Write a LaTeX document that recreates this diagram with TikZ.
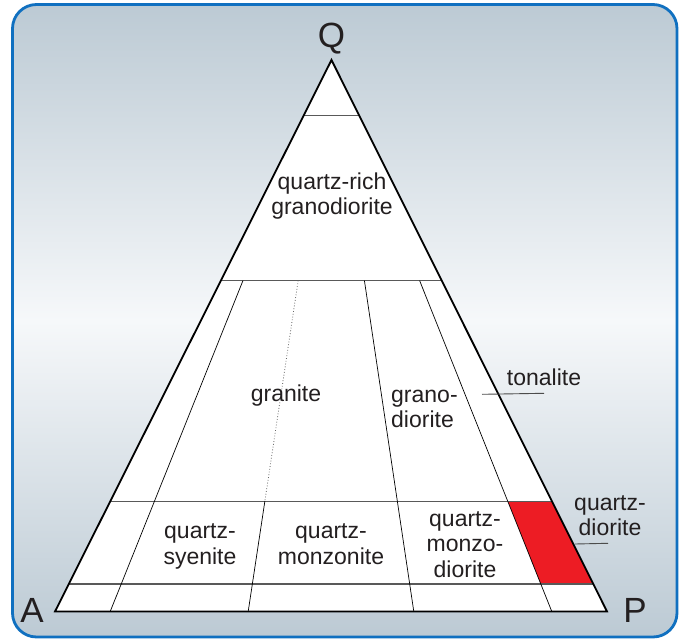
\documentclass[tikz,border=0pt]{standalone}
\usepackage{fontspec}
\setmainfont{Liberation Sans}
\usetikzlibrary{calc,positioning}
\definecolor{frameblue}{RGB}{16,112,192}
\definecolor{bgtop}{RGB}{188,202,212}
\definecolor{bgmid}{RGB}{246,248,250}
\definecolor{qdred}{RGB}{237,28,36}
\definecolor{inkgray}{RGB}{35,31,32}

\begin{document}
\begin{tikzpicture}[
    x=1pt, y=-1pt,
    every node/.style={font=\fontsize{23}{25.5}\selectfont, text=inkgray, inner sep=0pt},
    field/.style={align=center},
    corner/.style={font=\fontsize{35}{38}\selectfont, anchor=base},
    edge/.style={draw=black, line width=1.8pt, line join=miter},
    level/.style={draw=black!65, line width=1.3pt},
    split/.style={draw=black, line width=0.7pt},
    guess/.style={draw=black!60, line width=0.8pt, dotted},
    leader/.style={draw=black!70, line width=0.9pt}
]
\useasboundingbox (0,0) rectangle (681,640);
\draw[draw=frameblue, line width=2.8pt, rounded corners=24pt, top color=bgtop, bottom color=bgtop, middle color=bgmid] (12.5,4.5) rectangle (677,637);

% corners of the QAP triangle
\coordinate (A) at (55,611.5);
\coordinate (P) at (607,611.5);
\coordinate (Q) at (331.5,60);
\foreach \r/\n in {0.1/b10, 0.35/b35, 0.65/b65, 0.9/b90}
  \coordinate (\n) at ($(A)!\r!(P)$);

\fill[white] (A) -- (P) -- (Q) -- cycle;
\fill[qdred] ($(b90)!0.2!(Q)$) -- ($(P)!0.2!(Q)$) -- ($(P)!0.05!(Q)$) -- ($(b90)!0.05!(Q)$) -- cycle;

% field boundaries
\foreach \q in {0.05, 0.2, 0.6, 0.9}
  \draw[level] ($(A)!\q!(Q)$) -- ($(P)!\q!(Q)$);
\foreach \n in {b10, b65, b90}
  \draw[split] ($(\n)!0.6!(Q)$) -- (\n);
\draw[guess] ($(b35)!0.6!(Q)$) -- ($(b35)!0.2!(Q)$);
\draw[split] ($(b35)!0.2!(Q)$) -- (b35);
\draw[edge] (A) -- (P) -- (Q) -- cycle;

\node[corner] (Qlabel) at (331.5,47) {Q};
\node[corner] (Alabel) at (32,622) {A};
\node[corner] (Plabel) at (635,622) {P};

\node[field] (qrgd) at (332,196) {quartz-rich\\granodiorite};
\node[field] (granite) at (286,395.7) {granite};
\node[field, align=left, anchor=west] (granodiorite) at (391,409) {grano-\\diorite};
\node[field] (tonalite) at (544,377.5) {tonalite};
\node[field] (qsyenite) at (200,546.5) {quartz-\\syenite};
\node[field] (qmonzonite) at (331,544) {quartz-\\monzonite};
\node[field] (qmonzodiorite) at (465,544.5) {quartz-\\monzo-\\diorite};
\node[field] (qdiorite) at (610,515.5) {quartz-\\diorite};

% leaders
\coordinate (tonfoot) at (482,394.3);
\coordinate (tontip) at (544,393.3);
\draw[leader] (tonfoot) -- (tontip);
\coordinate (qdfoot) at (575,544);
\coordinate (qdtip) at (608,543.3);
\draw[leader] (qdfoot) -- (qdtip);
\end{tikzpicture}
\end{document}
